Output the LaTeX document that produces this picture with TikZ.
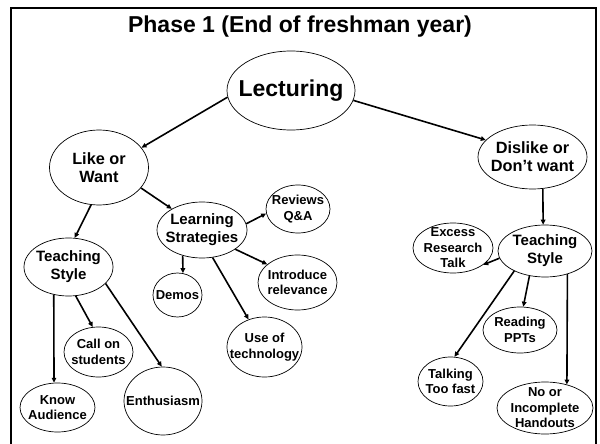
\documentclass[tikz,border=0pt]{standalone}
\usepackage{fontspec}
\setmainfont{Liberation Sans}
\usetikzlibrary{shapes.geometric,arrows.meta}
\begin{document}
\begin{tikzpicture}[x=1pt,y=-1pt,
  bubble/.style={draw,ellipse,inner sep=-12pt,line width=0.7pt,align=center},
  fbig/.style={font=\fontsize{23}{27}\selectfont\bfseries},
  fmid/.style={font=\fontsize{16.3}{18.3}\selectfont\bfseries},
  fnorm/.style={font=\fontsize{15}{17.8}\selectfont\bfseries},
  fsmall/.style={font=\fontsize{13}{15.5}\selectfont\bfseries},
  link/.style={line width=1.6pt,-{Triangle[length=5pt,width=4.5pt]}}]
\useasboundingbox (0,0) rectangle (600,444);
\draw[line width=2.5pt] (11,444) -- (11,8) -- (596,8) -- (596,444);
\node[fbig] (title) at (300,27) {Phase 1 (End of freshman year)};
% top level
\node[bubble,fbig,minimum width=128pt,minimum height=79pt] (lect) at (291,90.5) {Lecturing};
\node[bubble,fmid,minimum width=99pt,minimum height=75pt] (like) at (99,167.5) {Like or\\Want};
\node[bubble,fmid,minimum width=109pt,minimum height=64pt] (dislike) at (532.5,157) {Dislike or\\Don’t want};
% like side
\node[bubble,fnorm,minimum width=89pt,minimum height=58pt] (tsl) at (68.5,267) {Teaching\\Style};
\node[bubble,fnorm,minimum width=90pt,minimum height=56pt] (ls) at (202,230) {Learning\\Strategies};
\node[bubble,fsmall,minimum width=64pt,minimum height=48pt] (rev) at (298,209) {Reviews\\Q\&A};
\node[bubble,fsmall,minimum width=79pt,minimum height=55pt] (intro) at (297.5,282.5) {Introduce\\relevance};
\node[bubble,fsmall,minimum width=49pt,minimum height=44pt] (demos) at (177.5,295) {Demos};
\node[bubble,fsmall,minimum width=75pt,minimum height=60pt] (tech) at (264.5,347) {Use of\\technology};
\node[bubble,fsmall,minimum width=75pt,minimum height=49pt] (know) at (57.5,407.5) {Know\\Audience};
\node[bubble,fsmall,minimum width=69pt,minimum height=50pt] (call) at (98.5,352) {Call on\\students};
\node[bubble,fsmall,minimum width=78pt,minimum height=68pt] (enth) at (163,401) {Enthusiasm};
% dislike side
\node[bubble,fnorm,minimum width=94pt,minimum height=52pt] (tsr) at (545,251) {Teaching\\Style};
\node[bubble,fsmall,minimum width=80pt,minimum height=50pt] (excess) at (453,248) {Excess\\Research\\Talk};
\node[bubble,fsmall,minimum width=65pt,minimum height=49pt] (talk) at (450.5,381.5) {Talking\\Too fast};
\node[bubble,fsmall,minimum width=74pt,minimum height=46pt] (ppt) at (520,330) {Reading\\PPTs};
\node[bubble,fsmall,minimum width=96pt,minimum height=52pt] (hand) at (545,408) {No or\\Incomplete\\Handouts};
% arrows
\draw[link] (lect.186) -- (like.25);
\draw[link] (lect.351) -- (dislike.160);
\draw[link] (like.334) -- (ls.145);
\draw[link] (like.258) -- (tsl.78);
\draw[link] (ls.8) -- (rev.188);
\draw[link] (ls.330) -- (intro.149);
\draw[link] (ls.233) -- (demos.76);
\draw[link] (ls.291) -- (tech.120);
\draw[link] (tsl.242) -- (know.98);
\draw[link] (tsl.284) -- (call.103);
\draw[link] (tsl.336) -- (enth.92);
\draw[link] (dislike.288) -- (tsr.94);
\draw[link] (tsr.189) -- (excess.331);
\draw[link] (tsr.213) -- (talk.81);
\draw[link] (tsr.238) -- (ppt.82);
\draw[link] (tsr.314) -- (hand.47);
\end{tikzpicture}
\end{document}
